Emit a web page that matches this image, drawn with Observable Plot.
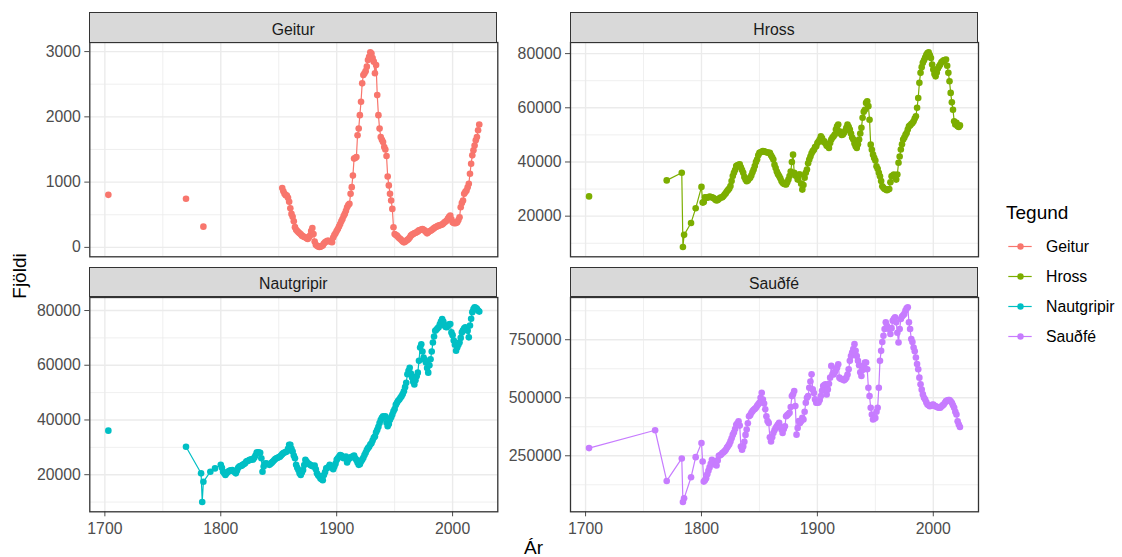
<!DOCTYPE html>
<html><head><meta charset="utf-8">
<script src="https://cdn.jsdelivr.net/npm/d3@7"></script>
<script src="https://cdn.jsdelivr.net/npm/@observablehq/plot@0.6"></script>
<style>
body{margin:0;background:#fff;}
#root{position:relative;width:1122px;height:557px;overflow:hidden;font-family:"Liberation Sans",Arial,sans-serif;background:#fff;}
.panel{position:absolute;}
.strip{position:absolute;box-sizing:border-box;background:#D9D9D9;border:1.3px solid #333333;color:#1A1A1A;font-size:15.8px;display:flex;align-items:center;justify-content:center;padding-top:4.6px;z-index:2;}
.ytitle{position:absolute;left:20px;top:275.5px;transform:translate(-50%,-50%) rotate(-90deg);font-size:19px;color:#000;white-space:nowrap;}
.xtitle{position:absolute;left:533.5px;top:538.5px;transform:translateX(-50%);font-size:19px;line-height:17px;color:#000;}
</style></head><body><div id="root"></div>
<script>
// ---------- data ----------
const species = ["Geitur", "Hross", "Nautgripir", "Sauðfé"];
const speciesColors = ["#F8766D", "#7CAE00", "#00BFC4", "#C77CFF"];
const xTicks = [1700, 1800, 1900, 2000];
const xMinorTicks = [1750, 1850, 1950];

const geiturYears = [1703, 1736, 1770, 1777, 1785, 1820].concat(d3.range(1853, 2024));
const geiturValues = [805, null, 745, null, 318, null,
 908, 860, 820, 800, 795, 760, 700, 600, 513, 470, 400, 310, 270, 250, 230, 215, 200,
 180, 170, 160, 154, 140, 128, 150, 180, 250, 297, 205, 90, 40, 26, 15, 5, 10, 20, 30,
 60, 77, 90, 100, 100, 95, 85, 80, 150, 190, 215, 250, 282, 320, 359, 400, 436, 480,
 513, 560, 615, 650, 667, 820, 923, 1100, 1360, 1370, 1385, 1718, 1820, 2026, 2231,
 2513, 2641, 2667, 2700, 2769, 2872, 2920, 2990, 2970, 2900, 2846, 2667, 2795, 2333,
 2026, 1820, 1692, 1650, 1615, 1538, 1500, 1400, 1087, 950, 820, 718, 590, 308, 205,
 190, 180, 160, 140, 128, 110, 90, 77, 85, 100, 115, 128, 150, 180, 195, 205, 215,
 225, 230, 245, 260, 267, 275, 282, 270, 256, 235, 215, 230, 246, 255, 267, 280, 295,
 308, 315, 325, 333, 340, 345, 349, 365, 385, 395, 410, 440, 470, 487, 430, 385, 375,
 369, 375, 385, 420, 462, 615, 680, 718, 820, 850, 872, 920, 974, 1128, 1282, 1410,
 1487, 1560, 1641, 1692, 1795, 1882];

const hrossYears = [1703, 1736, 1770, 1783, 1784, 1785, 1791, 1795].concat(d3.range(1800, 2024));
const hrossValues = [27300, null, 33200, 36000, 8600, 13100, 17500, 22900,
 30800, 25000, 25200, 27000, 26900, 26800, 27000, 27200, 27100, 27000, 26800, 26500,
 26100, 25800, 26000, 26300, 26800, 26900, 27000, 27400, 28000, 28500, 29200, 29700,
 30200, 31100, 33000, 34800, 36000, 37000, 38500, 38800, 39000, 39100, 38000, 37000,
 36000, 34500, 33500, 32900, 33200, 33800, 34200, 35000, 36200, 37200, 38500, 40000,
 40900, 42500, 43400, 43600, 43800, 44000, 43900, 43800, 43600, 43500, 43400, 43400,
 42500, 41700, 40900, 39000, 37800, 36500, 35500, 34800, 34000, 33000, 32300, 32000,
 31800, 31700, 32500, 33500, 34800, 36500, 40000, 42700, 36000, 35000, 34800, 33500,
 35400, 35400, 32000, 29800, 31500, 34200, 36000, 37200, 39500, 40900, 42000, 43200,
 44000, 44500, 45500, 45800, 47000, 47500, 48300, 49500, 48800, 47500, 47600, 46800,
 46000, 45800, 45200, 47000, 48300, 49000, 49500, 50100, 52000, 53200, 53800, 51300,
 50500, 50000, 50100, 50800, 51500, 52600, 53800, 53000, 52000, 50500, 49000, 48300,
 46800, 45800, 45200, 46500, 48300, 50500, 52600, 56300, 58500, 59300, 61800, 62400,
 60600, 55600, 46400, 44500, 42700, 41500, 40500, 38400, 37500, 36000, 34700, 33000,
 31000, 30500, 30000, 29800, 29600, 29800, 30000, 32500, 34700, 35000, 35400, 34500,
 33500, 35400, 39700, 42000, 44600, 46500, 48300, 49000, 50000, 50700, 52000, 53200,
 53500, 54000, 54400, 55000, 56000, 56900, 60000, 63600, 69200, 72900, 75000, 76600,
 77500, 78500, 79600, 80200, 80500, 79500, 78400, 76000, 74100, 72500, 71600, 73000,
 74500, 75300, 76000, 76800, 77200, 77500, 77600, 77800, 75500, 72900, 69800, 65500,
 62000, 59300, 55000, 53800, 54500, 53200, 52900, 53500];

const nautYears = [1703, 1736, 1770, 1783, 1784, 1785, 1791, 1795].concat(d3.range(1800, 2024));
const nautValues = [36100, null, 30200, 20500, 10000, 17400, 21100, 22300,
 23600, 22500, 21100, 20500, 19900, 20500, 21000, 21300, 21500, 21600, 21700, 21300,
 21000, 20500, 21500, 22500, 23000, 23200, 23300, 23600, 23900, 24200, 24800, 25000,
 25200, 25400, 25500, 25600, 25600, 26300, 27000, 28100, 28200, 28100, 28000, 26000,
 21100, 23000, 24000, 24200, 24000, 23800, 23600, 24000, 24400, 24800, 25300, 25700,
 26000, 26200, 26400, 26600, 27000, 27500, 27900, 28100, 28300, 28500, 29500, 30900,
 30900, 29500, 28500, 27000, 26000, 23600, 22500, 21700, 20500, 19900, 20800, 21700,
 23500, 25400, 24800, 24200, 24000, 23600, 23400, 23200, 23000, 23300, 22000, 20500,
 19800, 19300, 18600, 18300, 18000, 19900, 21000, 22300, 22500, 22800, 23600, 23000,
 22500, 22000, 23000, 24000, 25400, 26000, 26500, 27200, 27000, 26500, 26000, 26400,
 26600, 24500, 25500, 26000, 26300, 26500, 26600, 27000, 26000, 25400, 24500, 23600,
 23800, 24800, 25500, 26200, 27200, 28000, 29000, 29700, 30200, 31000, 31500, 32500,
 33500, 34000, 35500, 36400, 37500, 38900, 40000, 40800, 41300, 41000, 41300, 39000,
 37700, 38500, 40100, 41000, 42000, 43200, 44000, 45500, 46300, 47000, 47500, 48100,
 48700, 49500, 50500, 52000, 53600, 56700, 58000, 59100, 57000, 55500, 54000, 53000,
 54500, 56000, 57300, 61600, 66500, 67700, 65000, 62800, 62000, 61000, 59000, 57300,
 60000, 62200, 65000, 68300, 70500, 72600, 73000, 73500, 73900, 75000, 76000, 76900,
 76000, 74500, 74000, 73900, 74500, 75000, 75100, 72000, 71000, 69000, 67500, 65300,
 66500, 67500, 68300, 70000, 72000, 72800, 73500, 73900, 73000, 72600, 70200, 74500,
 77000, 79400, 80500, 81200, 81000, 80600, 80000, 79600];

const saudYears = [1703, 1760, 1770, 1783, 1784, 1785, 1791, 1795].concat(d3.range(1800, 2024));
const saudValues = [283000, 360000, 141600, 238500, 50600, 66500, 157500, 244000,
 305000, 225500, 138700, 145000, 153200, 170000, 185000, 200000, 215000, 232700,
 226000, 220000, 211000, 208000, 230000, 250000, 252000, 255000, 261600, 265000,
 270000, 276000, 285000, 292000, 300000, 312000, 325000, 340000, 350000, 365000,
 384000, 390000, 398800, 380000, 290000, 276000, 290500, 310000, 340000, 362700,
 390000, 420500, 425000, 435000, 442200, 448000, 452000, 456700, 465000, 472000,
 478400, 500000, 521700, 492800, 475000, 450000, 420500, 400000, 391600, 330000,
 312000, 330000, 348000, 360000, 370000, 377200, 385000, 391600, 375000, 362700,
 348000, 365000, 377200, 420500, 425000, 430000, 435000, 460000, 507200, 515000,
 529000, 464000, 341000, 370000, 400000, 391600, 398800, 413300, 406000, 440000,
 478400, 500000, 507200, 543400, 570000, 601200, 536000, 520000, 493000, 478400,
 478400, 480000, 490000, 507200, 530000, 550600, 555000, 558000, 514500, 536000,
 560000, 586700, 637300, 601200, 600000, 610000, 622800, 630000, 644600, 586700,
 582000, 580000, 579500, 575000, 580000, 586700, 600000, 622800, 659000, 680000,
 695000, 710000, 731000, 702000, 680000, 659000, 640000, 610000, 594000, 620000,
 637300, 651700, 651700, 622800, 543400, 507200, 456700, 427800, 406000, 410000,
 413300, 440000, 456700, 543400, 659000, 702000, 740000, 767300, 796000, 825000,
 810000, 800000, 796000, 774500, 800000, 832000, 840000, 846800, 825000, 780000,
 738400, 796000, 839600, 850000, 855000, 861300, 875700, 885000, 890000, 825000,
 796000, 753000, 740000, 716800, 700000, 673400, 645000, 622800, 586700, 557800,
 535000, 514500, 500000, 492800, 480000, 471000, 468000, 463900, 466000, 470000,
 471000, 465000, 463000, 461000, 458000, 457000, 456700, 462000, 467000, 471000,
 478000, 485600, 488000, 490000, 490000, 485000, 478400, 468000, 456700, 440000,
 427800, 398800, 385000, 374300];

const geiturTicks = [0, 1000, 2000, 3000], geiturMinor = [500, 1500, 2500];
const hrossTicks = [20000, 40000, 60000, 80000], hrossMinor = [10000, 30000, 50000, 70000];
const nautTicks = [20000, 40000, 60000, 80000], nautMinor = [10000, 30000, 50000, 70000];
const saudTicks = [250000, 500000, 750000], saudMinor = [125000, 375000, 625000, 875000];

// ---------- layout ----------
const root = document.getElementById("root");
const FONT = "'Liberation Sans', Arial, sans-serif";
const xDomain = [1687, 2039];

const panels = [
  {name: species[0], color: speciesColors[0], years: geiturYears, values: geiturValues, ticks: geiturTicks, minor: geiturMinor, col: 0, row: 0},
  {name: species[1], color: speciesColors[1], years: hrossYears, values: hrossValues, ticks: hrossTicks, minor: hrossMinor, col: 1, row: 0},
  {name: species[2], color: speciesColors[2], years: nautYears, values: nautValues, ticks: nautTicks, minor: nautMinor, col: 0, row: 1},
  {name: species[3], color: speciesColors[3], years: saudYears, values: saudValues, ticks: saudTicks, minor: saudMinor, col: 1, row: 1}
];

const colLeft = [0, 481];
const frameLeft = [89.3, 570];
const frameTop = [42.3, 296.7];
const frameH = 214.3;
const frameW = 408;

for (const p of panels) {
  const data = p.years.map((y, i) => ({year: y, value: p.values[i]}));
  const vals = p.values.filter(v => v != null);
  const lo = d3.min(vals), hi = d3.max(vals), pad = (hi - lo) * 0.05;
  const bottom = p.row === 1;
  const mTop = 10, mBottom = bottom ? 40 : 10;
  const mLeft = frameLeft[p.col] - colLeft[p.col];
  const width = 500;
  const mRight = width - mLeft - frameW;
  const chart = Plot.plot({
    width, height: frameH + mTop + mBottom,
    marginLeft: mLeft, marginRight: mRight, marginTop: mTop, marginBottom: mBottom,
    style: {fontSize: "15.8px", fontFamily: FONT, color: "#4D4D4D", background: "transparent", overflow: "visible"},
    x: bottom
      ? {domain: xDomain, ticks: xTicks, tickFormat: d => String(d), tickSize: 5, tickPadding: 6, label: null}
      : {domain: xDomain, axis: null},
    y: {domain: [lo - pad, hi + pad], ticks: p.ticks, tickFormat: d => String(d), tickSize: 5, tickPadding: 4, label: null},
    marks: [
      Plot.ruleX(xMinorTicks, {stroke: "#EBEBEB", strokeWidth: 0.8}),
      Plot.ruleY(p.minor.filter(v => v > lo - pad && v < hi + pad), {stroke: "#EBEBEB", strokeWidth: 0.8}),
      Plot.ruleX(xTicks, {stroke: "#EBEBEB", strokeWidth: 1.4}),
      Plot.ruleY(p.ticks, {stroke: "#EBEBEB", strokeWidth: 1.4}),
      Plot.line(data, {x: "year", y: "value", stroke: p.color, strokeWidth: 1.2}),
      Plot.dot(data, {x: "year", y: "value", fill: p.color, r: 3.3}),
      Plot.frame({stroke: "#333333", strokeWidth: 1.3})
    ]
  });
  chart.classList.add("panel");
  chart.style.left = colLeft[p.col] + "px";
  chart.style.top = (frameTop[p.row] - mTop) + "px";
  root.appendChild(chart);

  const strip = document.createElement("div");
  strip.className = "strip";
  strip.style.left = frameLeft[p.col] + "px";
  strip.style.top = (frameTop[p.row] - 30) + "px";
  strip.style.width = frameW + "px";
  strip.style.height = "30.3px";
  strip.textContent = p.name;
  root.appendChild(strip);
}

const yt = document.createElement("div");
yt.className = "ytitle"; yt.textContent = "Fjöldi"; root.appendChild(yt);
const xt = document.createElement("div");
xt.className = "xtitle"; xt.textContent = "Ár"; root.appendChild(xt);

// ---------- legend ----------
const leg = d3.select(root).append("svg")
  .attr("width", 122).attr("height", 160)
  .style("position", "absolute").style("left", "1000px").style("top", "195px")
  .style("font-family", FONT);
leg.append("text").attr("x", 6).attr("y", 23.5).attr("font-size", 19).attr("fill", "#000").text("Tegund");
species.forEach((s, i) => {
  const cy = 51.5 + i * 30;
  leg.append("line").attr("x1", 8.3).attr("x2", 31.7).attr("y1", cy).attr("y2", cy)
    .attr("stroke", speciesColors[i]).attr("stroke-width", 1.2);
  leg.append("circle").attr("cx", 20.5).attr("cy", cy).attr("r", 3.2).attr("fill", speciesColors[i]);
  leg.append("text").attr("x", 46).attr("y", cy).attr("dy", "0.35em").attr("font-size", 15.8).attr("fill", "#000").text(s);
});
</script>
</body></html>
